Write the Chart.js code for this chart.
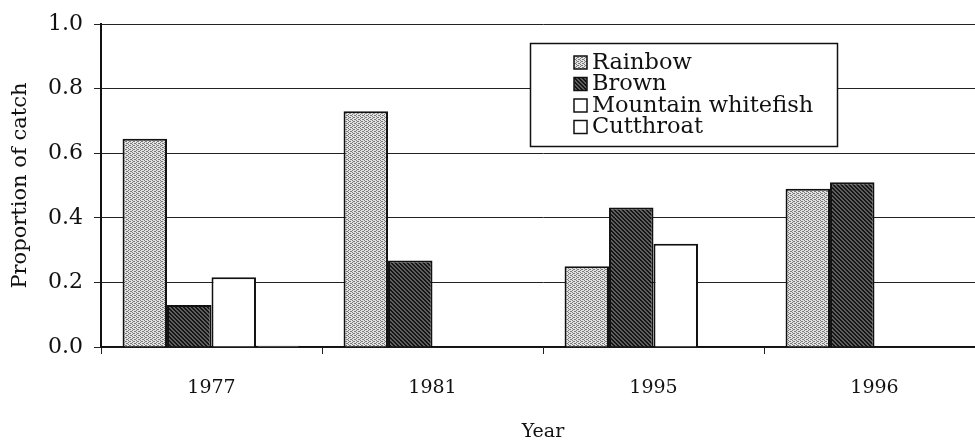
<!DOCTYPE html>
<html>
<head>
<meta charset="utf-8">
<script src="https://cdn.jsdelivr.net/npm/chart.js@4"></script>
<style>
  html, body { margin: 0; padding: 0; background: #fff; overflow: hidden; }
  #wrap { width: 975px; height: 442px; overflow: hidden; }
</style>
</head>
<body>
<div id="wrap"><canvas id="catchChart" width="985" height="442"></canvas></div>
<script>
const years = ['1977', '1981', '1995', '1996'];
const rainbow = [0.645, 0.73, 0.25, 0.49];
const brown = [0.13, 0.268, 0.432, 0.51];
const whitefish = [0.216, 0, 0.32, 0];
const cutthroat = [0.004, 0, 0, 0];
const yTicks = [0, 0.2, 0.4, 0.6, 0.8, 1.0];

const serif = "'DejaVu Serif', 'Liberation Serif', serif";

// stipple fill for rainbow, dark hatch for brown
function dotPattern() {
  const c = document.createElement('canvas');
  c.width = 4; c.height = 4;
  const g = c.getContext('2d');
  g.fillStyle = '#e2e2e2';
  g.fillRect(0, 0, 4, 4);
  g.fillStyle = '#7a7a7a';
  [[0,0],[2,1],[0,2],[2,3],[1,1],[3,3]].forEach(p => g.fillRect(p[0], p[1], 1, 1));
  return g.createPattern(c, 'repeat');
}
function hatchPattern() {
  const c = document.createElement('canvas');
  c.width = 4; c.height = 4;
  const g = c.getContext('2d');
  g.fillStyle = '#5e5e5e';
  g.fillRect(0, 0, 4, 4);
  g.fillStyle = '#151515';
  for (let i = 0; i < 4; i++) {
    g.fillRect(i, i, 1, 1);
    g.fillRect((i + 1) % 4, i, 1, 1);
  }
  return g.createPattern(c, 'repeat');
}

const boxLegend = {
  id: 'boxLegend',
  afterDraw(chart) {
    const ctx = chart.ctx;
    ctx.save();
    ctx.fillStyle = '#fff';
    ctx.fillRect(530, 43, 308, 104);
    ctx.strokeStyle = '#111';
    ctx.lineWidth = 1.5;
    ctx.strokeRect(530.5, 43.5, 307, 103);
    ctx.font = '22.5px ' + serif;
    ctx.textBaseline = 'middle';
    chart.data.datasets.forEach((ds, i) => {
      const y = 63 + i * 21.5;
      ctx.fillStyle = ds.backgroundColor;
      ctx.fillRect(574, y - 7, 13, 13);
      ctx.strokeStyle = '#111';
      ctx.lineWidth = 1.5;
      ctx.strokeRect(574, y - 7, 13, 13);
      ctx.fillStyle = '#111';
      ctx.fillText(ds.label, 592, y);
    });
    ctx.restore();
  }
};

new Chart(document.getElementById('catchChart'), {
  type: 'bar',
  data: {
    labels: years,
    datasets: [
      { label: 'Rainbow', data: rainbow, backgroundColor: dotPattern() },
      { label: 'Brown', data: brown, backgroundColor: hatchPattern() },
      { label: 'Mountain whitefish', data: whitefish, backgroundColor: '#fff' },
      { label: 'Cutthroat', data: cutthroat, backgroundColor: '#fff' }
    ]
  },
  options: {
    responsive: false,
    animation: false,
    layout: { padding: { top: 23, right: 0, left: 0, bottom: 0 } },
    datasets: {
      bar: {
        borderColor: '#111',
        borderWidth: 2,
        categoryPercentage: 0.805,
        barPercentage: 1.0
      }
    },
    plugins: {
      legend: { display: false },
      tooltip: { enabled: false }
    },
    scales: {
      x: {
        grid: { offset: true, drawOnChartArea: false, drawTicks: true, tickLength: 7, color: '#222' },
        border: { display: true, color: '#111', width: 1.5 },
        ticks: { color: '#111', font: { family: serif, size: 19 }, padding: 23 },
        title: { display: true, text: 'Year', color: '#111', font: { family: serif, size: 19 }, padding: { top: 0, bottom: -1 } },
        afterFit(s) { s.height = 95; }
      },
      y: {
        min: 0,
        max: 1.0,
        afterBuildTicks(s) { s.ticks = yTicks.map(v => ({ value: v })); },
        grid: { color: '#222', lineWidth: 1, tickLength: 7 },
        border: { display: true, color: '#111', width: 2 },
        ticks: {
          color: '#111',
          font: { family: serif, size: 22 },
          padding: 11,
          callback: v => Number(v).toFixed(1)
        },
        title: { display: true, text: 'Proportion of catch', color: '#111', font: { family: serif, size: 21 }, padding: { top: 8, bottom: 0 } },
        afterFit(s) { s.width = 101; }
      }
    }
  },
  plugins: [boxLegend]
});
</script>
</body>
</html>
